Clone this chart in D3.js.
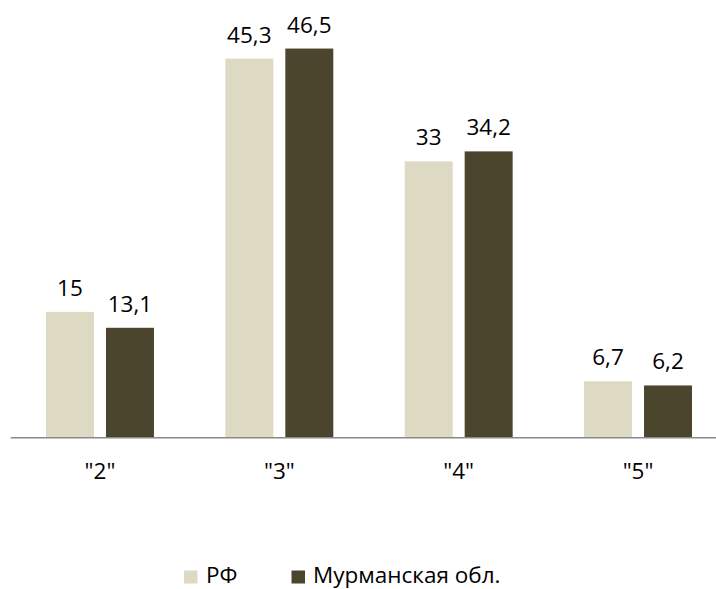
<!DOCTYPE html>
<html>
<head>
<meta charset="utf-8">
<script src="https://cdn.jsdelivr.net/npm/d3@7"></script>
<style>
  html, body { margin: 0; padding: 0; background: #fff; }
  svg { display: block; }
  text { font-family: "Open Sans", "Noto Sans", sans-serif; fill: #000; }
</style>
</head>
<body>
<svg id="chart" width="716" height="589"></svg>
<script>
const categories = ['"2"', '"3"', '"4"', '"5"'];
const seriesNames = ["РФ", "Мурманская обл."];
const valuesRF = [15, 45.3, 33, 6.7];
const valuesMurmansk = [13.1, 46.5, 34.2, 6.2];
const seriesColors = ["#ddd9c3", "#4a452c"];

const seriesValues = [valuesRF, valuesMurmansk];
const data = categories.map((c, i) => ({
  cat: c,
  vals: seriesNames.map((s, j) => ({ series: s, value: seriesValues[j][i], idx: j }))
}));

const svg = d3.select("#chart");
const fontSize = 22.5;

const x0 = d3.scaleBand()
  .domain(categories)
  .range([10.3, 727.7])
  .paddingInner(0.398)
  .paddingOuter(0.199);

const x1 = d3.scaleBand()
  .domain(seriesNames)
  .range([0, x0.bandwidth()])
  .paddingInner(0.2)
  .paddingOuter(0);

const y = d3.scaleLinear().domain([0, 50]).range([437.3, 19.3]);

const groups = svg.append("g").selectAll("g")
  .data(data).join("g")
  .attr("transform", d => `translate(${x0(d.cat)},0)`);

groups.selectAll("rect")
  .data(d => d.vals).join("rect")
  .attr("x", d => x1(d.series))
  .attr("y", d => y(d.value))
  .attr("width", x1.bandwidth())
  .attr("height", d => y(0) - y(d.value))
  .attr("fill", d => seriesColors[d.idx]);

groups.selectAll("text.lbl")
  .data(d => d.vals).join("text")
  .attr("class", "lbl")
  .attr("x", d => x1(d.series) + x1.bandwidth() / 2)
  .attr("y", d => y(d.value) - 16)
  .attr("text-anchor", "middle")
  .style("font-size", fontSize + "px")
  .text(d => String(d.value).replace(".", ","));

// x axis
const axis = svg.append("g")
  .attr("transform", `translate(0,${y(0)})`)
  .call(d3.axisBottom(x0).tickSize(0).tickPadding(0).tickSizeOuter(0));
axis.select(".domain").attr("stroke", "#898989").attr("stroke-width", 1.5);
axis.selectAll(".tick text")
  .attr("y", 0)
  .attr("dy", 0)
  .attr("transform", "translate(0,42)")
  .style("font-size", fontSize + "px")
  .style("font-family", '"Open Sans", "Noto Sans", sans-serif')
  .attr("fill", "#000");

// legend
const legendItems = [
  { name: seriesNames[0], color: seriesColors[0], sx: 184, tx: 206 },
  { name: seriesNames[1], color: seriesColors[1], sx: 291.5, tx: 313 }
];
const legend = svg.append("g");
legendItems.forEach(it => {
  legend.append("rect")
    .attr("x", it.sx).attr("y", 570.5)
    .attr("width", 13.5).attr("height", 13)
    .attr("fill", it.color);
  legend.append("text")
    .attr("x", it.tx).attr("y", 582.5)
    .style("font-size", fontSize + "px")
    .text(it.name);
});
</script>
</body>
</html>
